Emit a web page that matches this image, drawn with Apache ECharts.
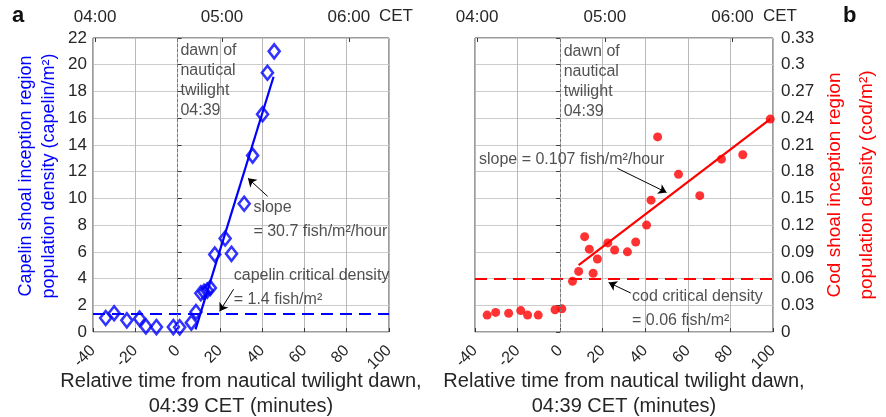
<!DOCTYPE html>
<html>
<head>
<meta charset="utf-8">
<script src="https://cdn.jsdelivr.net/npm/echarts@6/dist/echarts.min.js"></script>
<style>
  html, body { margin: 0; padding: 0; background: #fff; }
  #main { width: 886px; height: 417px; }
</style>
</head>
<body>
<div id="main"></div>
<script>
// panel a - capelin
var capelinTime = [-34, -30, -24, -18, -15, -10, -2, 1, 6.5, 8.7, 11, 12.5, 14, 15.5, 17.6, 22.5, 25.5, 31.5, 35.5, 40.2, 42.5, 45.7];
var capelinDensity = [1.05, 1.4, 0.87, 1.0, 0.42, 0.37, 0.37, 0.35, 0.7, 1.5, 2.9, 3.0, 3.1, 3.3, 5.8, 7.0, 5.85, 9.6, 13.2, 16.3, 19.4, 21.0];
var capelinFitTime = [8.5, 45.4];
var capelinFitDensity = [0.2, 19.1];
var capelinCritical = 1.4;

// panel b - cod
var codTime = [-34.3, -30.3, -24.2, -18.5, -15.3, -10.3, -2.4, 0.8, 5.8, 8.7, 11.5, 13.7, 15.5, 17.5, 22.4, 25.6, 31.6, 35.5, 40.6, 42.7, 45.8, 55.6, 65.6, 75.8, 85.8, 98.7];
var codDensity = [0.019, 0.022, 0.021, 0.024, 0.019, 0.019, 0.025, 0.026, 0.057, 0.068, 0.107, 0.093, 0.066, 0.082, 0.1, 0.092, 0.09, 0.101, 0.12, 0.148, 0.219, 0.177, 0.153, 0.194, 0.199, 0.239];
var codFitTime = [8.7, 98.7];
var codFitDensity = [0.075, 0.239];
var codCritical = 0.06;

// axes
var relTimeRange = [-40, 100];
var relTimeStep = 20;
var cetTicks = [240, 300, 360];   // minutes after midnight
var dawnMinute = 279;             // 04:39
var capelinRange = [0, 22, 2];
var codRange = [0, 0.33, 0.03];

var FONT = "'Liberation Sans', Arial, sans-serif";
var TXT = '#262626';
var BLUE = '#0000ff';
var RED = '#ff0000';
var GRIDLINE = '#cccccc';
var GRIDLINE_V = '#b8b8b8';   // vertical ones fall on half pixels, so a bit darker

function pairs(xs, ys) {
  return xs.map(function (x, i) { return [x, ys[i]]; });
}

function hhmm(v) {
  var h = Math.floor(v / 60), m = v % 60;
  return (h < 10 ? '0' : '') + h + ':' + (m < 10 ? '0' : '') + m;
}

function bottomAxis(gi) {
  return {
    type: 'value', gridIndex: gi, position: 'bottom',
    min: relTimeRange[0], max: relTimeRange[1], interval: relTimeStep,
    name: 'Relative time from nautical twilight dawn,\n04:39 CET (minutes)',
    nameLocation: 'middle', nameGap: 37, nameMoveOverlap: false,
    nameTextStyle: { fontFamily: FONT, fontSize: 20, color: TXT, lineHeight: 25 },
    axisLine: { show: false },
    axisTick: { inside: true, length: 4, lineStyle: { color: '#3a3a3a' } },
    axisLabel: { rotate: 45, margin: 16, fontFamily: FONT, fontSize: 16, color: TXT },
    splitLine: { show: true, lineStyle: { color: GRIDLINE_V, width: 1 } }
  };
}

function topAxis(gi) {
  return {
    type: 'value', gridIndex: gi, position: 'top',
    min: dawnMinute + relTimeRange[0], max: dawnMinute + relTimeRange[1],
    name: 'CET', nameLocation: 'end', nameGap: -10,
    nameTextStyle: { fontFamily: FONT, fontSize: 17, color: TXT, verticalAlign: 'bottom', padding: [0, 0, 13, 0] },
    axisLine: { show: false },
    axisTick: { inside: true, length: 4, customValues: cetTicks, lineStyle: { color: '#3a3a3a' } },
    axisLabel: { customValues: cetTicks, formatter: hhmm, margin: 12, fontFamily: FONT, fontSize: 17, color: TXT },
    splitLine: { show: false }
  };
}

// text annotations placed in data coordinates
function notes(xi, yi, items, color) {
  return {
    type: 'scatter', xAxisIndex: xi, yAxisIndex: yi, silent: true, z: 5,
    symbolSize: 1, itemStyle: { color: 'rgba(0,0,0,0)' },
    label: { show: true, position: [0, 0], fontFamily: FONT, fontSize: 16, color: color || TXT, lineHeight: 20 },
    data: items.map(function (it) {
      return {
        value: [it[0], it[1]],
        label: { formatter: it[2], align: 'left', verticalAlign: it[3] || 'middle' }
      };
    })
  };
}

function arrows(items) {
  return {
    silent: true, symbol: ['none', 'arrow'], symbolSize: 8,
    lineStyle: { color: '#000', width: 1, type: 'solid' },
    label: { show: false },
    data: items.map(function (a) { return [{ coord: a[0] }, { coord: a[1] }]; })
  };
}

var chart = echarts.init(document.getElementById('main'), null, { renderer: 'canvas' });

var option = {
  animation: false,
  backgroundColor: '#fff',
  title: [
    { text: 'a', left: 12, top: 5, padding: 0, textStyle: { fontFamily: FONT, fontSize: 22, fontWeight: 'bold', color: '#111' } },
    { text: 'b', left: 843, top: 5, padding: 0, textStyle: { fontFamily: FONT, fontSize: 22, fontWeight: 'bold', color: '#111' } }
  ],
  grid: [
    { left: 93, right: 497, top: 38, bottom: 85, show: true, borderColor: '#3a3a3a', borderWidth: 1, containLabel: false, outerBoundsMode: 'none' },
    { left: 475, right: 113, top: 38, bottom: 85, show: true, borderColor: '#3a3a3a', borderWidth: 1, containLabel: false, outerBoundsMode: 'none' }
  ],
  xAxis: [bottomAxis(0), bottomAxis(1), topAxis(0), topAxis(1)],
  yAxis: [
    {
      type: 'value', gridIndex: 0, position: 'left',
      min: capelinRange[0], max: capelinRange[1], interval: capelinRange[2],
      name: 'Capelin shoal inception region\npopulation density (capelin/m²)',
      nameLocation: 'middle', nameGap: 32,
      nameTextStyle: { fontFamily: FONT, fontSize: 18, color: BLUE, lineHeight: 23, padding: [0, 0, 0, 18] },
      axisLine: { show: false },
      axisTick: { inside: true, length: 4, lineStyle: { color: '#3a3a3a' } },
      axisLabel: { margin: 6, fontFamily: FONT, fontSize: 17, color: TXT },
      splitLine: { show: true, lineStyle: { color: GRIDLINE, width: 1 } }
    },
    {
      type: 'value', gridIndex: 1, position: 'right',
      min: codRange[0], max: codRange[1], interval: codRange[2],
      name: 'Cod shoal inception region\npopulation density (cod/m²)',
      nameLocation: 'middle', nameGap: 46,
      nameTextStyle: { fontFamily: FONT, fontSize: 19, color: RED, lineHeight: 32 },
      axisLine: { show: false },
      axisTick: { inside: true, length: 4, lineStyle: { color: '#3a3a3a' } },
      axisLabel: {
        margin: 8, fontFamily: FONT, fontSize: 17, color: TXT,
        formatter: function (v) { return String(+v.toFixed(2)); }
      },
      splitLine: { show: true, lineStyle: { color: GRIDLINE, width: 1 } }
    }
  ],
  series: [
    // ---- panel a
    {
      name: 'capelin', type: 'scatter', xAxisIndex: 0, yAxisIndex: 0, z: 3,
      symbol: 'diamond', symbolSize: [11, 14],
      itemStyle: { color: 'rgba(0,0,0,0)', borderColor: BLUE, borderWidth: 2.6 },
      data: pairs(capelinTime, capelinDensity),
      markLine: {
        silent: true, symbol: 'none', label: { show: false },
        data: [
          { yAxis: capelinCritical, lineStyle: { color: BLUE, width: 2, type: [12, 7] } },
          { xAxis: 0, lineStyle: { color: '#777', width: 1, type: [3, 2] } }
        ]
      }
    },
    {
      name: 'capelin fit', type: 'line', xAxisIndex: 0, yAxisIndex: 0, z: 4,
      symbol: 'none', lineStyle: { color: BLUE, width: 2.2 },
      data: pairs(capelinFitTime, capelinFitDensity),
      markLine: arrows([
        [[42.6, 10.15], [33.3, 11.5]],
        [[26.5, 3.2], [19.9, 1.55]]
      ])
    },
    notes(0, 0, [
      [1.6, 21.75, 'dawn of\nnautical\ntwilight\n04:39', 'top'],
      [36.1, 9.3, 'slope'],
      [36.1, 7.45, '= 30.7 fish/m²/hour'],
      [26.8, 4.16, 'capelin critical density'],
      [26.8, 2.42, '= 1.4 fish/m²']
    ]),
    // ---- panel b
    {
      name: 'cod', type: 'scatter', xAxisIndex: 1, yAxisIndex: 1, z: 3,
      symbol: 'circle', symbolSize: 9,
      itemStyle: { color: RED },
      data: pairs(codTime, codDensity),
      markLine: {
        silent: true, symbol: 'none', label: { show: false },
        data: [
          { yAxis: codCritical, lineStyle: { color: RED, width: 2, type: [12, 7] } },
          { xAxis: 0, lineStyle: { color: '#777', width: 1, type: [3, 2] } }
        ]
      }
    },
    {
      name: 'cod fit', type: 'line', xAxisIndex: 1, yAxisIndex: 1, z: 4,
      symbol: 'none', lineStyle: { color: RED, width: 2.2 },
      data: pairs(codFitTime, codFitDensity),
      markLine: arrows([
        [[26.9, 0.1837], [50.0, 0.1566]],
        [[33.2, 0.0437], [22.8, 0.0555]]
      ])
    },
    notes(1, 1, [
      [1.9, 0.3252, 'dawn of\nnautical\ntwilight\n04:39', 'top'],
      [-37.9, 0.193, 'slope = 0.107 fish/m²/hour'],
      [34.0, 0.0388, 'cod critical density'],
      [34.0, 0.0119, '= 0.06 fish/m²']
    ])
  ]
};

chart.setOption(option);
</script>
</body>
</html>
